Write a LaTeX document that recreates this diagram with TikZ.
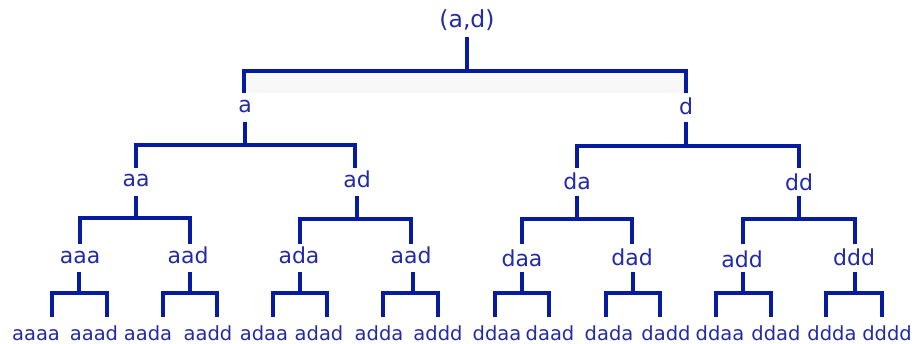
\documentclass[tikz,border=0pt]{standalone}
\usepackage{fontspec}
\setmainfont{DejaVu Sans}
\definecolor{lc}{RGB}{5,28,160}
\definecolor{tc}{RGB}{35,42,165}
\definecolor{faint}{RGB}{248,248,248}
\begin{document}
\begin{tikzpicture}[x=1pt,y=-1pt,
  ln/.style={draw=lc,line width=3.4pt,line join=miter},
  lab/.style={text=tc,anchor=base,inner sep=0pt,font=\fontsize{22}{24}\selectfont},
  rootlab/.style={lab,font=\fontsize{23.5}{25}\selectfont},
  leaf/.style={lab,font=\fontsize{19.5}{21}\selectfont}]
\useasboundingbox (0,0) rectangle (918,344);
\fill[faint] (244,72) rectangle (686,93);
% labels
\node[rootlab] (r) at (467,28) {(a,d)};
\node[lab] (a) at (245,113) {a};
\node[lab] (d) at (686,115) {d};
\node[lab] (aa) at (136,187) {aa};
\node[lab] (ad) at (357,188) {ad};
\node[lab] (da) at (577,190) {da};
\node[lab] (dd) at (799,191) {dd};
\node[lab] (aaa) at (80,264) {aaa};
\node[lab] (aad) at (188,264) {aad};
\node[lab] (ada) at (299,264) {ada};
\node[lab] (aad2) at (411,264) {aad};
\node[lab] (daa) at (522,267) {daa};
\node[lab] (dad) at (632,266) {dad};
\node[lab] (add) at (742,268) {add};
\node[lab] (ddd) at (854,266) {ddd};
\foreach \x/\t/\n in {36/aaaa/l1,94/aaad/l2,148/aada/l3,208/aadd/l4,264/adaa/l5,319/adad/l6,379/adda/l7,438/addd/l8,497/ddaa/l9,550/daad/l10,609/dada/l11,666/dadd/l12,720/ddaa/l13,776/ddad/l14,832/ddda/l15,887/dddd/l16}
  \node[leaf] (\n) at (\x,341) {\t};
% brackets: stem x, stem top, bar y, left x, right x, bottom
\foreach \s/\st/\b/\l/\r/\e in {
  467/37/71/244/686/93,
  245/122/145/136/355/168,
  686/122/146/577/799/168,
  136/196/218/80/190/244,
  357/196/219/300/411/244,
  577/196/219/522/632/244,
  799/196/219/743/855/244,
  79/272/293/52/107/317,
  190/272/293/163/217/317,
  300/272/293/273/327/317,
  413/272/293/383/438/317,
  522/272/293/495/549/317,
  633/272/293/606/660/317,
  743/272/293/716/771/317,
  855/272/293/826/882/317}{
  \draw[ln] (\s,\st) -- (\s,\b);
  \draw[ln] (\l,\e) -- (\l,\b) -- (\r,\b) -- (\r,\e);
}
\end{tikzpicture}
\end{document}
